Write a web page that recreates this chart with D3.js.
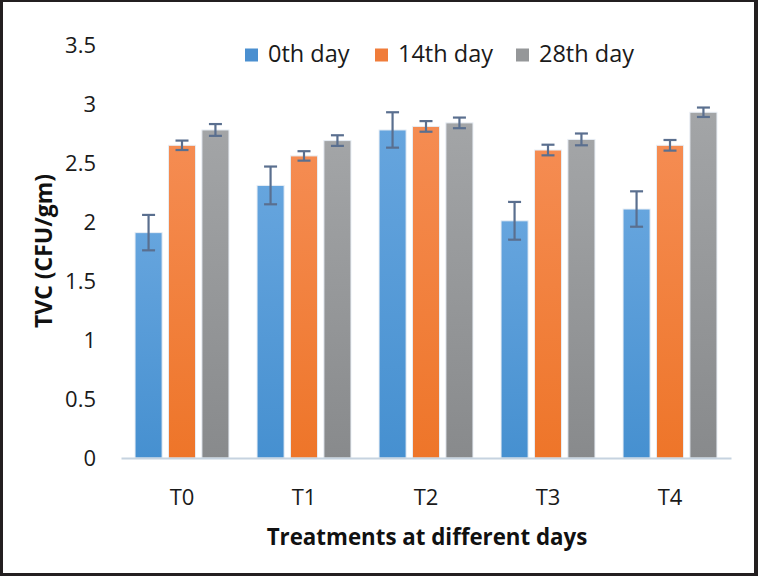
<!DOCTYPE html>
<html><head><meta charset="utf-8">
<script src="https://cdn.jsdelivr.net/npm/d3@7"></script>
<style>body{margin:0;background:#fff;}svg{display:block;}</style>
</head><body>
<svg id="chart" width="758" height="576"></svg>
<script>
const categories = ["T0","T1","T2","T3","T4"];
const seriesNames = ["0th day","14th day","28th day"];
const day0  = [1.91, 2.31, 2.78, 2.01, 2.11];
const day14 = [2.65, 2.56, 2.81, 2.61, 2.65];
const day28 = [2.78, 2.69, 2.84, 2.70, 2.93];
const err0  = [0.15, 0.16, 0.15, 0.16, 0.15];
const err14 = [0.04, 0.04, 0.045, 0.045, 0.045];
const err28 = [0.05, 0.045, 0.045, 0.05, 0.04];
const yTicks = [0, 0.5, 1, 1.5, 2, 2.5, 3, 3.5];

const values = [day0, day14, day28];
const errors = [err0, err14, err28];
const colorsTop = ["#66a5de", "#f58c52", "#a3a5a7"];
const colorsBot = ["#4690d0", "#ee7529", "#888a8c"];
const legendColors = ["#4a8fd0", "#f07c3a", "#959799"];

const svg = d3.select("#chart");
const font = "'Open Sans', 'Noto Sans', sans-serif";

// frame
svg.append("rect").attr("x",0).attr("y",0).attr("width",758).attr("height",576).attr("fill","#231f20");
svg.append("rect").attr("x",3).attr("y",2).attr("width",751).attr("height",571).attr("fill","#fff");

const defs = svg.append("defs");
seriesNames.forEach((s,i)=>{
  const g = defs.append("linearGradient").attr("id","g"+i).attr("x1",0).attr("y1",0).attr("x2",0).attr("y2",1);
  g.append("stop").attr("offset","0%").attr("stop-color",colorsTop[i]);
  g.append("stop").attr("offset","100%").attr("stop-color",colorsBot[i]);
});

const x0 = d3.scaleBand().domain(categories).range([121, 731]).paddingInner(0.23).paddingOuter(0.115);
const x1 = d3.scaleBand().domain(d3.range(3)).range([0, x0.bandwidth()]).paddingInner(0.19).paddingOuter(0);
const y = d3.scaleLinear().domain([0, 3.5]).range([458, 45]);

// y tick labels
const yAxis = d3.axisLeft(y).tickValues(yTicks).tickSize(0).tickPadding(0).tickFormat(d=>String(d));
const ya = svg.append("g").attr("transform","translate(96,0)").call(yAxis);
ya.select(".domain").remove();
ya.selectAll("text").attr("font-family",font).attr("font-size",22).attr("fill","#1a1a1a").attr("dy","0.35em");

// bars
categories.forEach((c,ci)=>{
  const g = svg.append("g").attr("transform",`translate(${x0(c)},0)`);
  values.forEach((vals,si)=>{
    g.append("rect")
      .attr("x", x1(si)).attr("y", y(vals[ci]))
      .attr("width", x1.bandwidth()).attr("height", y(0)-y(vals[ci]))
      .attr("fill", `url(#g${si})`)
      .attr("stroke","#e8eef5").attr("stroke-width",1);
  });
});

// x axis line
const xAxis = d3.axisBottom(x0).tickSize(0).tickPadding(0);
const xa = svg.append("g").attr("transform",`translate(0,${y(0)})`).call(xAxis);
xa.select(".domain").attr("stroke","#c6d3e0").attr("stroke-width",2);
xa.selectAll("text").attr("font-family",font).attr("font-size",22).attr("fill","#1a1a1a")
  .attr("y",39).attr("dy","0.35em");

// error bars
categories.forEach((c,ci)=>{
  values.forEach((vals,si)=>{
    const cx = x0(c) + x1(si) + x1.bandwidth()/2;
    const v = vals[ci], e = errors[si][ci];
    const g = svg.append("g").attr("stroke","#5a6f8f").attr("stroke-width",2.2);
    g.append("line").attr("x1",cx).attr("x2",cx).attr("y1",y(v+e)).attr("y2",y(v-e));
    g.append("line").attr("x1",cx-6.5).attr("x2",cx+6.5).attr("y1",y(v+e)).attr("y2",y(v+e));
    g.append("line").attr("x1",cx-6.5).attr("x2",cx+6.5).attr("y1",y(v-e)).attr("y2",y(v-e));
  });
});

// legend
const legX = [245, 375, 516];
seriesNames.forEach((s,i)=>{
  svg.append("rect").attr("x",legX[i]).attr("y",48.5).attr("width",13).attr("height",13).attr("fill",legendColors[i]);
  svg.append("text").attr("x",legX[i]+23).attr("y",54).attr("dy","0.35em")
    .attr("font-family",font).attr("font-size",23.5).attr("fill","#1a1a1a").text(s);
});

// axis titles
svg.append("text").attr("x",427).attr("y",537).attr("dy","0.35em").attr("text-anchor","middle")
  .attr("font-family",font).attr("font-weight","bold").attr("font-size",22.3).attr("fill","#111")
  .text("Treatments at different days");
svg.append("text").attr("transform","translate(44,251) rotate(-90)").attr("dy","0.35em").attr("text-anchor","middle")
  .attr("font-family",font).attr("font-weight","bold").attr("font-size",23).attr("fill","#111")
  .text("TVC (CFU/gm)");
</script>
</body></html>
